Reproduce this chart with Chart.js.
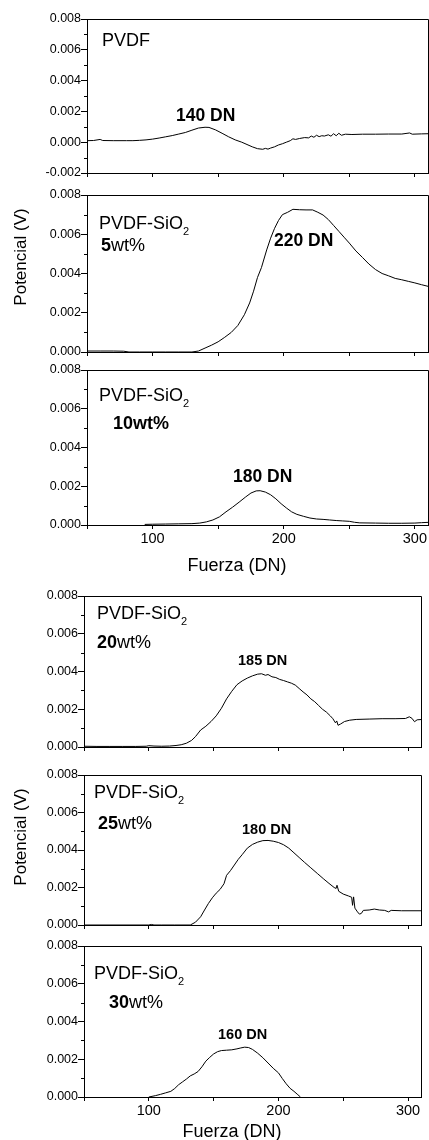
<!DOCTYPE html>
<html>
<head>
<meta charset="utf-8">
<script src="https://cdn.jsdelivr.net/npm/chart.js@4.4.1/dist/chart.umd.min.js"></script>
<style>
  html, body { margin: 0; padding: 0; background: #fff; }
  #wrap { position: relative; width: 429px; height: 1140px; overflow: hidden; font-family: "Liberation Sans", Arial, sans-serif; color: #000; }
  canvas { position: absolute; left: 0; }
  .t { position: absolute; white-space: nowrap; line-height: 1; }
  .lab { font-size: 18px; }
  .pk1 { font-size: 17.5px; font-weight: bold; }
  .pk2 { font-size: 14.5px; font-weight: bold; }
  .sub { font-size: 11px; position: relative; top: 6px; }
  .ytitle { position: absolute; font-size: 17px; white-space: nowrap; transform: translate(-50%, -50%) rotate(-90deg); line-height: 1; }
  .xtitle { position: absolute; font-size: 18px; white-space: nowrap; transform: translate(-50%, -50%); line-height: 1; }
</style>
</head>
<body>
<div id="wrap">
  <canvas id="c1" width="429" height="190" style="top:0px"></canvas>
  <canvas id="c2" width="429" height="185" style="top:180px"></canvas>
  <canvas id="c3" width="429" height="200" style="top:355px"></canvas>
  <canvas id="c4" width="429" height="180" style="top:580px"></canvas>
  <canvas id="c5" width="429" height="180" style="top:760px"></canvas>
  <canvas id="c6" width="429" height="200" style="top:935px"></canvas>

  <div class="t lab" style="left:102px; top:31px;">PVDF</div>
  <div class="t pk1" style="left:176px; top:107px;">140 DN</div>

  <div class="t lab" style="left:99px; top:214px;">PVDF-SiO<span class="sub">2</span></div>
  <div class="t lab" style="left:101px; top:236px;"><b>5</b>wt%</div>
  <div class="t pk1" style="left:274px; top:232px;">220 DN</div>

  <div class="t lab" style="left:99px; top:386px;">PVDF-SiO<span class="sub">2</span></div>
  <div class="t lab" style="left:113px; top:414px;"><b>10wt%</b></div>
  <div class="t pk1" style="left:233px; top:468px;">180 DN</div>

  <div class="t lab" style="left:97px; top:604px;">PVDF-SiO<span class="sub">2</span></div>
  <div class="t lab" style="left:97px; top:633px;"><b>20</b>wt%</div>
  <div class="t pk2" style="left:238px; top:653px;">185 DN</div>

  <div class="t lab" style="left:94px; top:783px;">PVDF-SiO<span class="sub">2</span></div>
  <div class="t lab" style="left:98px; top:814px;"><b>25</b>wt%</div>
  <div class="t pk2" style="left:242px; top:822px;">180 DN</div>

  <div class="t lab" style="left:94px; top:964px;">PVDF-SiO<span class="sub">2</span></div>
  <div class="t lab" style="left:109px; top:993px;"><b>30</b>wt%</div>
  <div class="t pk2" style="left:218px; top:1027px;">160 DN</div>

  <div class="ytitle" style="left:20px; top:257px;">Potencial (V)</div>
  <div class="ytitle" style="left:20px; top:837px;">Potencial (V)</div>
  <div class="xtitle" style="left:237px; top:565px;">Fuerza (DN)</div>
  <div class="xtitle" style="left:232px; top:1131px;">Fuerza (DN)</div>
</div>
<script>
// ---- Data (Fuerza in DN, Potencial in V) ----
const fuerzaPVDF = [50,55,60,62,70,80,85,90,95,100,105,110,115,120,125,130,135,140,143,148,153,158,163,168,172,176,180,184,186,188,190,193,196,199,202,205,207,209,212,216,219,221,223,225,227,229,231,234,236,238,240,242,244,247,252,260,270,280,290,296,298,305,310];
const potPVDF    = [0.00010,0.00011,0.00018,0.00011,0.00010,0.00010,0.00010,0.00012,0.00015,0.00020,0.00027,0.00035,0.00043,0.00053,0.00063,0.00078,0.00092,0.00097,0.00096,0.00080,0.00058,0.00035,0.00015,0.00000,-0.00015,-0.00030,-0.00042,-0.00046,-0.00040,-0.00045,-0.00038,-0.00030,-0.00018,-0.00010,0.00000,0.00010,0.00022,0.00018,0.00024,0.00030,0.00028,0.00040,0.00032,0.00045,0.00036,0.00042,0.00040,0.00048,0.00039,0.00055,0.00042,0.00058,0.00045,0.00052,0.00050,0.00052,0.00052,0.00053,0.00053,0.00060,0.00052,0.00054,0.00055];

const fuerza5 = [50,60,70,78,82,90,100,110,120,130,135,140,145,150,155,160,165,170,174,177,180,183,187,190,193,196,199,203,207,212,217,222,226,230,234,238,242,246,250,255,260,265,270,275,280,285,290,295,300,305,311];
const pot5    = [0.00005,0.00005,0.00005,0.00004,0.00000,0.00000,0.00000,0.00000,0.00000,0.00000,0.00005,0.00020,0.00035,0.00052,0.00075,0.00100,0.00135,0.00190,0.00250,0.00310,0.00380,0.00430,0.00520,0.00580,0.00630,0.00670,0.00700,0.00712,0.00727,0.00725,0.00724,0.00724,0.00712,0.00698,0.00675,0.00645,0.00615,0.00585,0.00555,0.00515,0.00482,0.00448,0.00420,0.00400,0.00388,0.00375,0.00368,0.00360,0.00352,0.00343,0.00333];

const fuerza10 = [94,100,110,120,130,136,141,146,151,156,161,166,171,175,179,182,186,190,194,198,202,206,210,215,220,225,230,235,240,245,250,254,258,270,280,290,300,305,311];
const pot10    = [0.00003,0.00004,0.00005,0.00006,0.00007,0.00010,0.00016,0.00026,0.00042,0.00068,0.00092,0.00118,0.00145,0.00165,0.00176,0.00177,0.00170,0.00156,0.00135,0.00110,0.00088,0.00068,0.00055,0.00045,0.00036,0.00031,0.00029,0.00026,0.00023,0.00021,0.00019,0.00014,0.00011,0.00010,0.00009,0.00009,0.00010,0.00012,0.00014];

const fuerza20 = [50,60,70,80,90,98,100,104,110,116,121,125,129,133,136,140,144,148,152,156,160,164,168,172,176,180,184,187,190,192,195,198,201,204,207,210,213,216,219,222,225,228,231,234,237,240,242,244,245,246,248,251,255,260,270,280,290,298,301,303,305,307,311];
const pot20    = [0.00004,0.00003,0.00003,0.00003,0.00003,0.00004,0.00007,0.00005,0.00004,0.00005,0.00008,0.00012,0.00020,0.00035,0.00055,0.00090,0.00110,0.00135,0.00165,0.00205,0.00255,0.00295,0.00330,0.00350,0.00365,0.00377,0.00386,0.00388,0.00380,0.00384,0.00372,0.00368,0.00358,0.00352,0.00345,0.00338,0.00328,0.00310,0.00292,0.00276,0.00255,0.00240,0.00220,0.00200,0.00185,0.00165,0.00150,0.00128,0.00138,0.00115,0.00122,0.00135,0.00142,0.00146,0.00148,0.00150,0.00150,0.00151,0.00160,0.00152,0.00134,0.00144,0.00146];

const fuerza25 = [50,100,102,104,110,120,132,136,140,143,146,149,152,155,158,160,163,166,169,172,176,180,184,188,192,196,200,204,208,212,216,220,225,230,235,239,243,244.5,245.2,246.5,250,254,256.5,257.2,258,259,261,262.5,264,265.5,270,274,278,282,285,287,295,311];
const pot25    = [0.00000,0.00000,0.00003,0.00000,0.00000,0.00000,0.00000,0.00015,0.00044,0.00080,0.00115,0.00145,0.00170,0.00190,0.00220,0.00265,0.00290,0.00320,0.00350,0.00375,0.00410,0.00430,0.00442,0.00450,0.00451,0.00447,0.00440,0.00428,0.00410,0.00385,0.00360,0.00335,0.00305,0.00275,0.00245,0.00222,0.00200,0.00195,0.00212,0.00180,0.00165,0.00155,0.00148,0.00105,0.00150,0.00090,0.00070,0.00058,0.00062,0.00078,0.00080,0.00085,0.00080,0.00078,0.00070,0.00078,0.00076,0.00076];

const fuerza30 = [100,105,109,113,117,120,123,126,129,132,135,138,141,144,147,150,153,156,160,164,168,171,174,177,180,184,188,192,196,200,203,206,209,212,215,217];
const pot30    = [0.00000,0.00007,0.00014,0.00022,0.00030,0.00045,0.00065,0.00080,0.00095,0.00112,0.00122,0.00135,0.00160,0.00190,0.00210,0.00228,0.00240,0.00246,0.00248,0.00250,0.00255,0.00260,0.00264,0.00262,0.00252,0.00232,0.00208,0.00180,0.00152,0.00128,0.00098,0.00070,0.00046,0.00030,0.00012,0.00000];

const xTicks = [50, 100, 150, 200, 250, 300];
const xTickLabels = [100, 200, 300];

// ---- Rendering ----
const FONT = '"Liberation Sans", Arial, sans-serif';

const framePlugin = {
  id: 'frame',
  afterDraw(chart) {
    const a = chart.chartArea, ctx = chart.ctx;
    ctx.save();
    ctx.strokeStyle = '#000';
    ctx.lineWidth = 1;
    ctx.beginPath();
    ctx.moveTo(a.left, a.top + 0.5);
    ctx.lineTo(a.right + 0.5, a.top + 0.5);
    ctx.lineTo(a.right + 0.5, a.bottom);
    ctx.stroke();
    // minor y ticks (odd multiples of 0.001)
    const ys = chart.scales.y;
    ctx.beginPath();
    for (let k = Math.round(ys.min * 1000); k <= Math.round(ys.max * 1000); k++) {
      if (k % 2 !== 0) {
        const p = Math.round(ys.getPixelForValue(k / 1000)) + 0.5;
        ctx.moveTo(a.left - 3, p);
        ctx.lineTo(a.left, p);
      }
    }
    ctx.stroke();
    ctx.restore();
  }
};

function makePanel(id, xs, ys, o) {
  const pts = xs.map((x, i) => ({ x: x, y: ys[i] }));
  return new Chart(document.getElementById(id), {
    type: 'line',
    data: { datasets: [{ data: pts, borderColor: '#000', borderWidth: 1, pointRadius: 0, tension: 0, fill: false }] },
    options: {
      animation: false,
      responsive: false,
      devicePixelRatio: 1,
      layout: { padding: { top: o.padTop, right: o.padRight, left: 0, bottom: 0 } },
      plugins: { legend: { display: false }, tooltip: { enabled: false } },
      scales: {
        x: {
          type: 'linear', min: 50, max: 310,
          afterBuildTicks: s => { s.ticks = xTicks.map(v => ({ value: v })); },
          afterFit: s => { s.height = o.xH; },
          grid: { display: true, drawOnChartArea: false, drawTicks: true, tickLength: 4, color: '#000' },
          border: { display: true, color: '#000', width: 1 },
          ticks: {
            autoSkip: false, maxRotation: 0, padding: 1,
            color: '#000', font: { family: FONT, size: 14.5 },
            callback: v => (o.xLabels && xTickLabels.includes(v)) ? String(v) : ''
          }
        },
        y: {
          type: 'linear', min: o.ymin, max: 0.008,
          afterFit: s => { s.width = o.yW; },
          grid: { display: true, drawOnChartArea: false, drawTicks: true, tickLength: 6, color: '#000' },
          border: { display: true, color: '#000', width: 1 },
          ticks: {
            stepSize: 0.002, autoSkip: false, padding: 0,
            color: '#000', font: { family: FONT, size: 12.5 },
            callback: v => v.toFixed(3)
          }
        }
      }
    },
    plugins: [framePlugin]
  });
}

makePanel('c1', fuerzaPVDF, potPVDF, { padTop: 19, padRight: 1, xH: 17, yW: 87, ymin: -0.002, xLabels: false });
makePanel('c2', fuerza5, pot5,       { padTop: 15, padRight: 1, xH: 13, yW: 87, ymin: 0, xLabels: false });
makePanel('c3', fuerza10, pot10,     { padTop: 15, padRight: 1, xH: 30, yW: 87, ymin: 0, xLabels: true });
makePanel('c4', fuerza20, pot20,     { padTop: 16, padRight: 8, xH: 13, yW: 84, ymin: 0, xLabels: false });
makePanel('c5', fuerza25, pot25,     { padTop: 15, padRight: 8, xH: 15, yW: 84, ymin: 0, xLabels: false });
makePanel('c6', fuerza30, pot30,     { padTop: 11, padRight: 8, xH: 38, yW: 84, ymin: 0, xLabels: true });
</script>
</body>
</html>
